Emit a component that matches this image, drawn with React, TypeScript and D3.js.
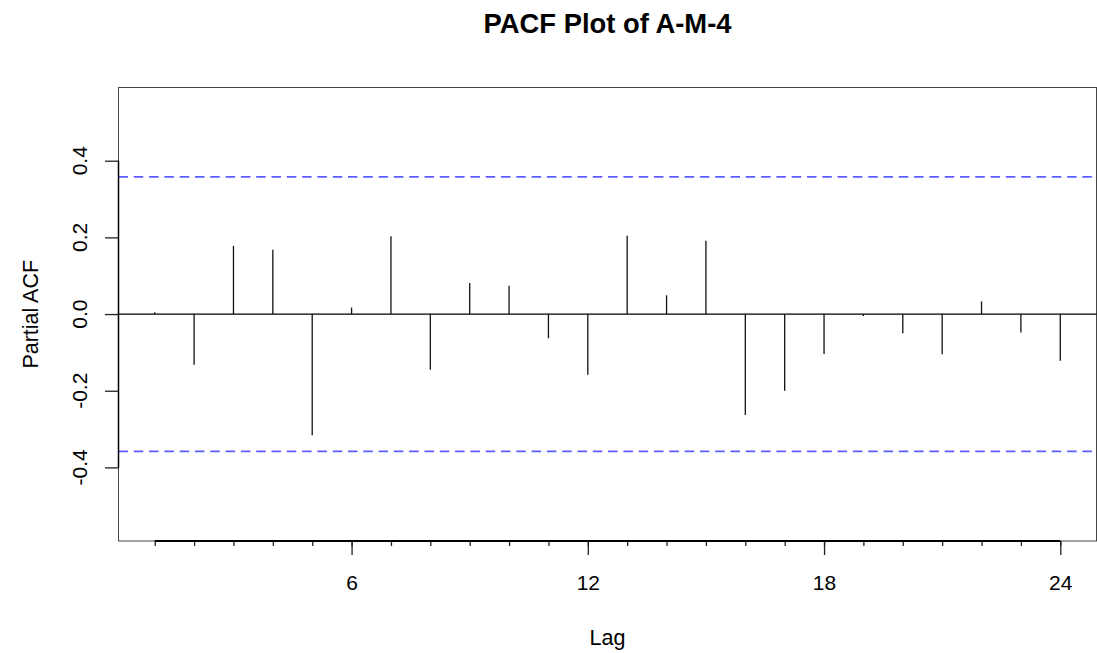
import React, { useRef, useEffect } from 'react';
import * as d3 from 'd3';

// PACF values
const lags = [1, 2, 3, 4, 5, 6, 7, 8, 9, 10, 11, 12, 13, 14, 15, 16, 17, 18, 19, 20, 21, 22, 23, 24];
const pacf = [
	0.005, -0.132, 0.178, 0.168, -0.316, 0.017, 0.203, -0.145, 0.081, 0.074, -0.063, -0.158,
	0.204, 0.049, 0.191, -0.263, -0.2, -0.104, -0.005, -0.05, -0.105, 0.033, -0.048, -0.122,
];
const lagLabels = [6, 12, 18, 24];
const yTicks = [-0.4, -0.2, 0, 0.2, 0.4];
const confLimit = 0.358; // 1.96 / sqrt(n), n = 30
const title = 'PACF Plot of A-M-4';
const xTitle = 'Lag';
const yTitle = 'Partial ACF';

function App() {
	const width = 1097;
	const height = 653;
	const left = 118.5;
	const right = 1096.5;
	const top = 87.5;
	const bottom = 541;
	const svgRef = useRef<SVGSVGElement>(null);

	useEffect(() => {
		const svg = d3.select(svgRef.current);
		svg.selectAll('*').remove();
		const font = '"Liberation Sans", Arial, Helvetica, sans-serif';

		const x = d3.scaleLinear().domain([0.08, 24.92]).range([left, right]);
		const y = d3.scaleLinear().domain([-0.592, 0.591]).range([bottom, top]);

		svg
			.append('text')
			.attr('x', (left + right) / 2)
			.attr('y', 33)
			.attr('text-anchor', 'middle')
			.attr('font-family', font)
			.attr('font-weight', 'bold')
			.attr('font-size', 27.4)
			.attr('fill', '#000')
			.text(title);

		// plot box
		svg
			.append('rect')
			.attr('x', left)
			.attr('y', top)
			.attr('width', right - left)
			.attr('height', bottom - top)
			.attr('fill', 'none')
			.attr('stroke', '#444')
			.attr('stroke-width', 1);

		// confidence limits
		svg
			.selectAll('.conf')
			.data([confLimit, -confLimit])
			.join('line')
			.attr('class', 'conf')
			.attr('x1', left)
			.attr('x2', right)
			.attr('y1', (d) => y(d))
			.attr('y2', (d) => y(d))
			.attr('stroke', '#5c5cff')
			.attr('stroke-width', 1.8)
			.attr('stroke-dasharray', '9.5 5.8');

		// zero line
		svg
			.append('line')
			.attr('x1', left)
			.attr('x2', right)
			.attr('y1', y(0))
			.attr('y2', y(0))
			.attr('stroke', '#000')
			.attr('stroke-width', 1.2);

		// spikes
		svg
			.selectAll('.spike')
			.data(pacf)
			.join('line')
			.attr('class', 'spike')
			.attr('x1', (d, i) => x(lags[i]))
			.attr('x2', (d, i) => x(lags[i]))
			.attr('y1', y(0))
			.attr('y2', (d) => y(d))
			.attr('stroke', '#111')
			.attr('stroke-width', 1.3);

		// x axis: minor ticks at every lag, labelled ticks at seasonal lags
		const xMinor = d3.axisBottom(x).tickValues(lags).tickSize(5).tickFormat(() => '');
		const gxMinor = svg.append('g').attr('transform', `translate(0,${bottom})`).call(xMinor);
		gxMinor.select('.domain').remove();

		const xMajor = d3
			.axisBottom(x)
			.tickValues(lagLabels)
			.tickSize(14)
			.tickPadding(20)
			.tickFormat((d) => String(d));
		const gxMajor = svg.append('g').attr('transform', `translate(0,${bottom})`).call(xMajor);
		gxMajor.select('.domain').remove();
		gxMajor.selectAll('text').attr('font-family', font).attr('font-size', 21).attr('fill', '#000');

		svg
			.append('line')
			.attr('x1', x(lags[0]))
			.attr('x2', x(lags[lags.length - 1]))
			.attr('y1', bottom)
			.attr('y2', bottom)
			.attr('stroke', '#000')
			.attr('stroke-width', 2);

		svg.selectAll('.tick line').attr('stroke', '#222').attr('stroke-width', 1.3);

		// y axis
		const yAxis = d3.axisLeft(y).tickValues(yTicks).tickSize(13.5).tickFormat(() => '');
		const gy = svg.append('g').attr('transform', `translate(${left},0)`).call(yAxis);
		gy.select('.domain').remove();
		gy.selectAll('.tick line').attr('stroke', '#222').attr('stroke-width', 1.3);

		svg
			.append('line')
			.attr('x1', left)
			.attr('x2', left)
			.attr('y1', y(yTicks[0]))
			.attr('y2', y(yTicks[yTicks.length - 1]))
			.attr('stroke', '#000')
			.attr('stroke-width', 1.5);

		svg
			.selectAll('.ylab')
			.data(yTicks)
			.join('text')
			.attr('class', 'ylab')
			.attr('x', 87)
			.attr('y', (d) => y(d))
			.attr('transform', (d) => `rotate(-90, 87, ${y(d)})`)
			.attr('text-anchor', 'middle')
			.attr('font-family', font)
			.attr('font-size', 21)
			.attr('fill', '#000')
			.text((d) => d.toFixed(1));

		svg
			.append('text')
			.attr('x', (left + right) / 2)
			.attr('y', 645)
			.attr('text-anchor', 'middle')
			.attr('font-family', font)
			.attr('font-size', 21.5)
			.attr('fill', '#000')
			.text(xTitle);

		svg
			.append('text')
			.attr('x', 38)
			.attr('y', (top + bottom) / 2)
			.attr('transform', `rotate(-90, 38, ${(top + bottom) / 2})`)
			.attr('text-anchor', 'middle')
			.attr('font-family', font)
			.attr('font-size', 21.5)
			.attr('fill', '#000')
			.text(yTitle);
	}, []);

	return (
		<svg
			ref={svgRef}
			width={width}
			height={height}
			style={{ position: 'absolute', left: 0, top: 0, display: 'block', background: '#fff' }}
		></svg>
	);
}

export default App;
